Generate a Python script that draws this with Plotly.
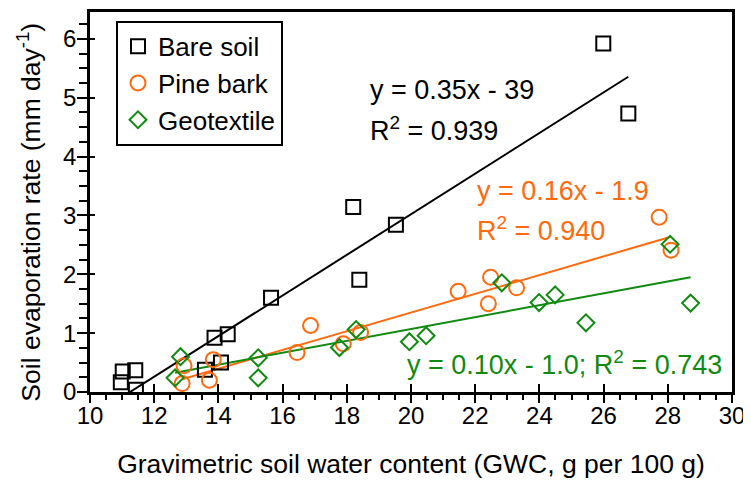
import plotly.graph_objects as go

# ---- data ----
bare_x = [10.96, 11.02, 11.41, 11.43, 13.58, 13.88, 14.08, 14.29, 15.64, 18.20, 18.39, 19.53, 25.99, 26.77]
bare_y = [0.165, 0.35, 0.37, 0.04, 0.38, 0.92, 0.50, 0.98, 1.60, 3.145, 1.905, 2.84, 5.92, 4.73]

pine_x = [12.93, 12.87, 13.72, 13.84, 16.45, 16.87, 17.89, 18.43, 21.47, 22.41, 22.48, 23.29, 27.73, 28.10]
pine_y = [0.445, 0.143, 0.20, 0.55, 0.67, 1.13, 0.82, 1.01, 1.71, 1.50, 1.95, 1.77, 2.97, 2.41]

geo_x = [12.65, 12.82, 15.24, 15.24, 17.77, 18.29, 19.95, 20.47, 22.83, 23.99, 24.49, 25.45, 28.07, 28.71]
geo_y = [0.24, 0.60, 0.24, 0.58, 0.755, 1.06, 0.855, 0.956, 1.855, 1.52, 1.65, 1.175, 2.51, 1.51]

series_names = ["Bare soil", "Pine bark", "Geotextile"]
trend_slope = [0.345, 0.159, 0.101]
trend_intercept = [-3.88, -1.83, -0.95]
eq_labels = ["y = 0.35x - 39", "y = 0.16x - 1.9", "y = 0.10x - 1.0; R<sup>2</sup> = 0.743"]
r2_labels = ["R<sup>2</sup> = 0.939", "R<sup>2</sup> = 0.940", None]

x_ticks = [10, 12, 14, 16, 18, 20, 22, 24, 26, 28, 30]
y_ticks = [0, 1, 2, 3, 4, 5, 6]

x_title = "Gravimetric soil water content (GWC, g per 100 g)"
y_title = "Soil evaporation rate (mm day<sup>-1</sup>)"

# ---- styling ----
FONT = "Liberation Sans, Arial, sans-serif"
colors = ["#000000", "#FF6A0E", "#108A10"]
symbols = ["square-open", "circle-open", "diamond-open"]
sizes = [14, 15, 13]

xs = [bare_x, pine_x, geo_x]
ys = [bare_y, pine_y, geo_y]

fig = go.Figure()

# trend lines
for i in range(3):
    x0, x1 = min(xs[i]), max(xs[i])
    fig.add_trace(go.Scatter(
        x=[x0, x1],
        y=[trend_slope[i] * x0 + trend_intercept[i], trend_slope[i] * x1 + trend_intercept[i]],
        mode="lines", line=dict(color=colors[i], width=2), showlegend=False, hoverinfo="skip"))

# markers
for i in range(3):
    fig.add_trace(go.Scatter(
        x=xs[i], y=ys[i], mode="markers", name=series_names[i],
        legendgroup=series_names[i],
        marker=dict(symbol=symbols[i], size=sizes[i], color=colors[i],
                    line=dict(width=2, color=colors[i]))))

# dummy trace on overlay axes (for inward major ticks)
fig.add_trace(go.Scatter(x=[None], y=[None], xaxis="x2", yaxis="y2",
                         showlegend=False, hoverinfo="skip"))

XR = [10, 30]
YR = [0, 6.456]

fig.update_layout(
    width=743, height=480,
    margin=dict(l=82, r=19, t=1, b=95.5),
    paper_bgcolor="white", plot_bgcolor="white",
    font=dict(family=FONT, size=24, color="black"),
    showlegend=True,
    legend=dict(x=0.0405, y=0.977, xanchor="left", yanchor="top",
                bordercolor="black", borderwidth=2, bgcolor="white",
                font=dict(size=26), tracegroupgap=0, itemwidth=30),
    xaxis=dict(range=XR, tickvals=x_ticks, ticks="outside", ticklen=8, tickwidth=2,
               tickcolor="black", showline=True, linewidth=2.5, linecolor="black",
               mirror=True, showgrid=False, zeroline=False,
               tickfont=dict(size=24), ticklabelstandoff=-8,
               minor=dict(dtick=0.5, ticks="outside", ticklen=5, tickwidth=1.5, tickcolor="black"),
               title=dict(text=x_title, font=dict(size=26.5), standoff=27)),
    yaxis=dict(range=YR, tickvals=y_ticks, ticks="outside", ticklen=10, tickwidth=2,
               tickcolor="black", showline=True, linewidth=2.5, linecolor="black",
               mirror=True, showgrid=False, zeroline=False,
               tickfont=dict(size=24), ticklabelstandoff=-4,
               minor=dict(dtick=0.25, ticks="outside", ticklen=8, tickwidth=1.5, tickcolor="black")),
    xaxis2=dict(range=XR, overlaying="x", anchor="y", tickvals=x_ticks, ticks="inside",
                ticklen=8, tickwidth=2, tickcolor="black", showticklabels=False,
                showgrid=False, zeroline=False, showline=False),
    yaxis2=dict(range=YR, overlaying="y", anchor="x", tickvals=y_ticks, ticks="inside",
                ticklen=5, tickwidth=2, tickcolor="black", showticklabels=False,
                showgrid=False, zeroline=False, showline=False),
)

# y-axis title as rotated text
fig.add_annotation(x=-0.095, y=0.472, xref="paper", yref="paper", text=y_title,
                   textangle=-90, showarrow=False, xanchor="center", yanchor="middle",
                   font=dict(size=26.5))

# equation annotations
ann_pos = [(18.66, 5.13, 4.47), (22.0, 3.41, 2.77), (19.81, 0.50, None)]
for i in range(3):
    ax, ay1, ay2 = ann_pos[i]
    fig.add_annotation(x=ax, y=ay1, xref="x", yref="y", text=eq_labels[i], showarrow=False,
                       xanchor="left", yanchor="middle", font=dict(size=27, color=colors[i]))
    if r2_labels[i]:
        fig.add_annotation(x=ax, y=ay2, xref="x", yref="y", text=r2_labels[i], showarrow=False,
                           xanchor="left", yanchor="middle", font=dict(size=27, color=colors[i]))

fig.write_html("out.html")
